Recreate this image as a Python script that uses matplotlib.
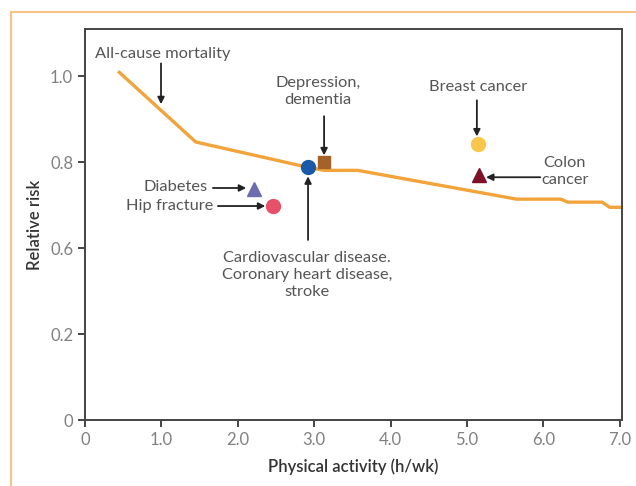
import numpy as np
import matplotlib
matplotlib.use("Agg")
from matplotlib import pyplot as plt
from matplotlib.patches import Rectangle

plt.rcParams["font.family"] = ["Lato", "DejaVu Sans"]

# all-cause mortality curve
curve_x = [0.45, 1.45, 2.92, 3.13, 3.57, 5.65, 6.23, 6.32, 6.77, 6.87, 7.03]
curve_y = [1.009, 0.847, 0.788, 0.781, 0.781, 0.714, 0.714, 0.707, 0.707, 0.695, 0.695]

# single outcome points
outcomes = ["Cardiovascular", "Depression", "Breast cancer", "Colon cancer", "Diabetes", "Hip fracture"]
point_x = [2.92, 3.13, 5.14, 5.16, 2.21, 2.46]
point_y = [0.788, 0.800, 0.842, 0.770, 0.737, 0.698]
markers = ["o", "s", "o", "^", "^", "o"]
colors = ["#1a5aa8", "#a5612a", "#f8c64a", "#7b1226", "#6e6db0", "#e8506a"]

yticks = [0, 0.2, 0.6, 0.8, 1.0]
ytick_labels = ["0", "0.2", "0.6", "0.8", "1.0"]
xticks = [0, 1, 2, 3, 4, 5, 6, 7]
xtick_labels = ["0", "1.0", "2.0", "3.0", "4.0", "5.0", "6.0", "7.0"]

# broken y axis: 0, 0.2, 0.6, 0.8, 1.0 equally spaced
_bv = [0, 0.2, 0.6, 1.4]
_bp = [0, 1, 2, 6]


def fwd(v):
    return np.interp(v, _bv, _bp)


def inv(p):
    return np.interp(p, _bp, _bv)


fig = plt.figure(figsize=(6.36, 4.86), dpi=100)
ax = fig.add_axes([85 / 636, 66 / 486, 537 / 636, 391 / 486])
ax.set_yscale("function", functions=(fwd, inv))

# orange frame round the figure
fig.patches.append(Rectangle((11 / 636, -0.1), 1.2, (486 - 12) / 486 + 0.1,
                             transform=fig.transFigure, fill=False,
                             edgecolor="#f4c48a", lw=1.5))

ax.plot(curve_x, curve_y, color="#f2a33a", lw=2.4, solid_joinstyle="round", zorder=2)
for x, y, m, c in zip(point_x, point_y, markers, colors):
    ax.plot(x, y, marker=m, color=c, markersize=10 if m != "s" else 9,
            linestyle="none", zorder=3)

ax.set_xlim(0, 7.03)
ax.set_ylim(0, 1.11)
ax.set_xticks(xticks)
ax.set_xticklabels(xtick_labels)
ax.set_yticks(yticks)
ax.set_yticklabels(ytick_labels)
ax.minorticks_off()

for s in ax.spines.values():
    s.set_color("#444444")
    s.set_linewidth(1.4)
ax.tick_params(direction="out", length=5, width=1.4, color="#444444",
               labelcolor="#808080", labelsize=12)
ax.set_xlabel("Physical activity (h/wk)", fontsize=12, color="#333333",
              fontweight="semibold", labelpad=8)
ax.set_ylabel("Relative risk", fontsize=12, color="#333333",
              fontweight="semibold", labelpad=5)

txt = dict(color="#555555", fontsize=11.8)
arr = dict(arrowstyle="-|>", color="#222222", lw=1.3, mutation_scale=10,
           shrinkA=0, shrinkB=0)

ax.text(1.02, 1.051, "All-cause mortality", ha="center", va="center", **txt)
ax.annotate("", xy=(0.995, 0.935), xytext=(0.995, 1.030), arrowprops=arr)

ax.text(3.05, 0.965, "Depression,\ndementia", ha="center", va="center",
        linespacing=1.25, **txt)
ax.annotate("", xy=(3.13, 0.816), xytext=(3.13, 0.907), arrowprops=arr)

ax.text(5.14, 0.974, "Breast cancer", ha="center", va="center", **txt)
ax.annotate("", xy=(5.13, 0.860), xytext=(5.13, 0.944), arrowprops=arr)

ax.text(6.28, 0.779, "Colon\ncancer", ha="center", va="center",
        linespacing=1.25, **txt)
ax.annotate("", xy=(5.25, 0.765), xytext=(5.96, 0.765), arrowprops=arr)

ax.text(1.61, 0.742, "Diabetes", ha="right", va="center", **txt)
ax.annotate("", xy=(2.11, 0.740), xytext=(1.675, 0.740), arrowprops=arr)

ax.text(1.675, 0.698, "Hip fracture", ha="right", va="center", **txt)
ax.annotate("", xy=(2.36, 0.698), xytext=(1.74, 0.698), arrowprops=arr)

ax.text(2.91, 0.474, "Cardiovascular disease.\nCoronary heart disease,\nstroke",
        ha="center", va="center", linespacing=1.25, **txt)
ax.annotate("", xy=(2.92, 0.767), xytext=(2.92, 0.619), arrowprops=arr)

fig.savefig("out.png", dpi=100)
